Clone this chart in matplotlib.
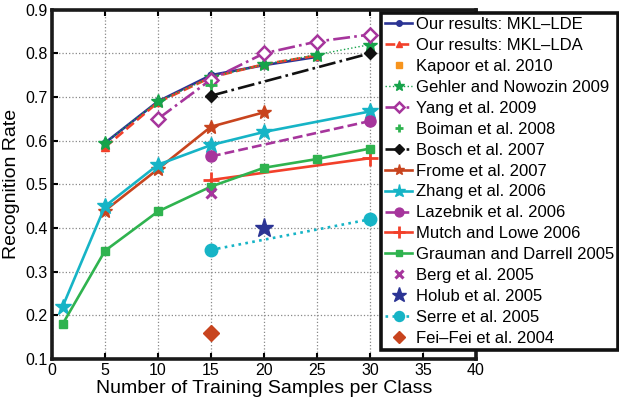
import matplotlib
matplotlib.use('Agg')
import matplotlib.pyplot as plt

plt.rcParams['font.family'] = ['Liberation Sans', 'DejaVu Sans']

# datos
x_lde = [5, 10, 15, 20, 25]
y_lde = [0.595, 0.69, 0.75, 0.773, 0.792]
x_lda = [5, 10, 15, 20, 25]
y_lda = [0.585, 0.688, 0.745, 0.775, 0.795]
x_kapoor = []
y_kapoor = []
x_gehler = [5, 10, 15, 20, 25, 30]
y_gehler = [0.595, 0.69, 0.745, 0.775, 0.797, 0.82]
x_yang = [10, 15, 20, 25, 30]
y_yang = [0.65, 0.74, 0.80, 0.827, 0.843]
x_boiman = [15]
y_boiman = [0.727]
x_bosch = [15, 30]
y_bosch = [0.703, 0.80]
x_frome = [5, 10, 15, 20]
y_frome = [0.44, 0.535, 0.632, 0.665]
x_zhang = [1, 5, 10, 15, 20, 30]
y_zhang = [0.22, 0.45, 0.545, 0.59, 0.62, 0.667]
x_lazebnik = [15, 30]
y_lazebnik = [0.564, 0.645]
x_mutch = [15, 30]
y_mutch = [0.51, 0.56]
x_grauman = [1, 5, 10, 15, 20, 25, 30]
y_grauman = [0.18, 0.348, 0.438, 0.495, 0.538, 0.558, 0.582]
x_berg = [15]
y_berg = [0.48]
x_holub = [20]
y_holub = [0.40]
x_serre = [15, 30]
y_serre = [0.35, 0.42]
x_feifei = [15]
y_feifei = [0.16]

navy = '#2b3494'
red = '#f2402a'
orange = '#f7941d'
green = '#16a34a'
magenta = '#a6359c'
black = '#111111'
brown = '#c8441e'
cyan = '#16b4c6'
green2 = '#2fb34f'

fig = plt.figure(figsize=(6.19, 4.03), dpi=100)
ax = fig.add_axes([0.084, 0.109, 0.685, 0.867])

lw = 1.9
series = [
    (x_lde, y_lde, dict(color=navy, ls='-', marker='o', ms=5), 'Our results: MKL\u2013LDE'),
    (x_lda, y_lda, dict(color=red, ls='--', marker='^', ms=6), 'Our results: MKL\u2013LDA'),
    (x_kapoor, y_kapoor, dict(color=orange, ls='none', marker='s', ms=6), 'Kapoor et al. 2010'),
    (x_gehler, y_gehler, dict(color=green, ls=':', lw=1.0, marker='*', ms=10), 'Gehler and Nowozin 2009'),
    (x_yang, y_yang, dict(color=magenta, ls='-.', marker='D', ms=7, mfc='white', mew=1.8), 'Yang et al. 2009'),
    (x_boiman, y_boiman, dict(color=green2, ls='none', marker='+', ms=8, mew=2), 'Boiman et al. 2008'),
    (x_bosch, y_bosch, dict(color=black, ls='-.', marker='D', ms=6), 'Bosch et al. 2007'),
    (x_frome, y_frome, dict(color=brown, ls='-', marker='*', ms=10), 'Frome et al. 2007'),
    (x_zhang, y_zhang, dict(color=cyan, ls='-', marker='*', ms=12), 'Zhang et al. 2006'),
    (x_lazebnik, y_lazebnik, dict(color=magenta, ls='--', marker='o', ms=8), 'Lazebnik et al. 2006'),
    (x_mutch, y_mutch, dict(color=red, ls='-', marker='+', ms=11, mew=2), 'Mutch and Lowe 2006'),
    (x_grauman, y_grauman, dict(color=green2, ls='-', marker='s', ms=6), 'Grauman and Darrell 2005'),
    (x_berg, y_berg, dict(color=magenta, ls='none', marker='x', ms=7, mew=2.2), 'Berg et al. 2005'),
    (x_holub, y_holub, dict(color=navy, ls='none', marker='*', ms=14), 'Holub et al. 2005'),
    (x_serre, y_serre, dict(color=cyan, ls=':', marker='o', ms=9), 'Serre et al. 2005'),
    (x_feifei, y_feifei, dict(color=brown, ls='none', marker='D', ms=8), 'Fei\u2013Fei et al. 2004'),
]

handles = []
for xs, ys, kw, lab in series:
    kw.setdefault('lw', lw)
    h, = ax.plot(xs, ys, label=lab, **kw)
    handles.append(h)

ax.set_xlim(0, 40)
ax.set_ylim(0.1, 0.9)
ax.set_xticks(range(0, 41, 5))
ax.set_yticks([0.1, 0.2, 0.3, 0.4, 0.5, 0.6, 0.7, 0.8, 0.9])
ax.grid(True, ls=':', color='#888888', lw=0.9)
ax.tick_params(direction='in', top=True, right=True, width=1.5, length=4, labelsize=11.5, pad=3)
for s in ax.spines.values():
    s.set_linewidth(2.6)
    s.set_color('#1a1a1a')
ax.set_xlabel('Number of Training Samples per Class', fontsize=14, labelpad=1)
ax.set_ylabel('Recognition Rate', fontsize=14, labelpad=4)

leg = fig.legend(handles=handles, loc='upper left', bbox_to_anchor=(381/619, 1 - 13/403),
                 fontsize=12, frameon=True, fancybox=False, borderpad=0.25,
                 labelspacing=0.355, handlelength=1.6, handletextpad=0.25, borderaxespad=0,
                 markerscale=0.8)
leg.get_frame().set_edgecolor('#111111')
leg.get_frame().set_linewidth(2.6)
leg.get_frame().set_alpha(1)

fig.savefig('out.png', dpi=100)
